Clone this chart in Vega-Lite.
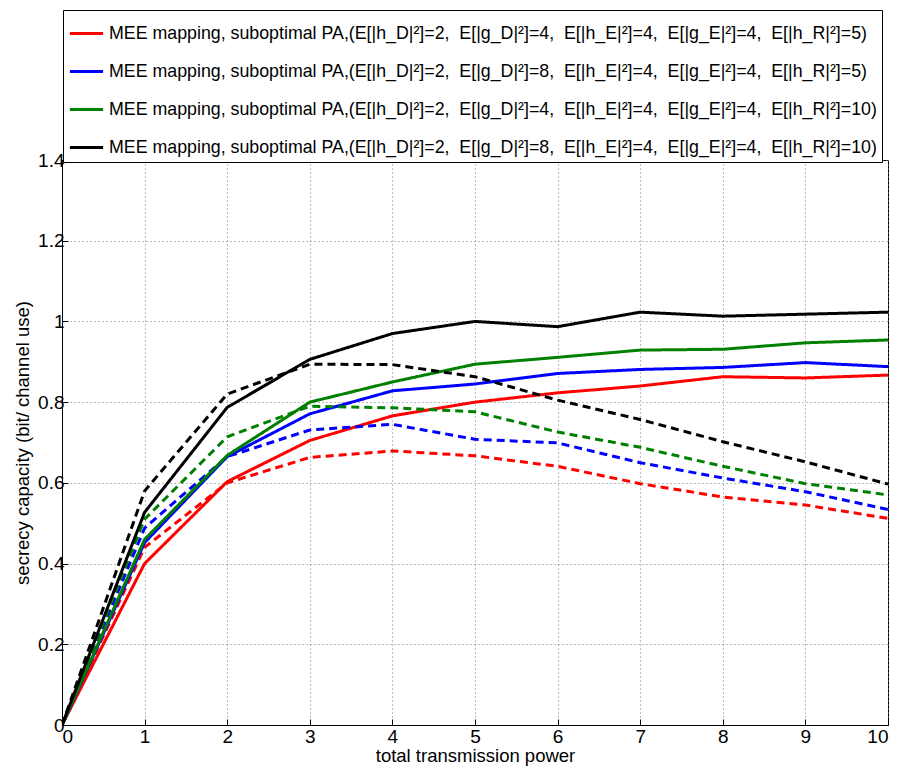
{
  "$schema": "https://vega.github.io/schema/vega-lite/v6.json",
  "width": 826,
  "height": 565,
  "autosize": {"type": "none"},
  "padding": {"left": 62, "top": 160, "right": 12, "bottom": 42},
  "background": "white",
  "config": {
    "font": "Liberation Sans",
    "view": {"stroke": "black", "strokeWidth": 1},
    "axis": {
      "domainColor": "black",
      "tickColor": "black",
      "labelColor": "black",
      "titleColor": "black",
      "titleFontWeight": "normal",
      "labelFontSize": 19,
      "titleFontSize": 18.5,
      "grid": true,
      "gridColor": "#777777",
      "gridDash": [1, 3],
      "gridWidth": 1,
      "tickSize": -6,
      "labelPadding": 4
    }
  },
  "data": {
    "values": [
      {"p": 0, "c": 0, "s": "A", "t": "solid"},
      {"p": 1, "c": 0.40, "s": "A", "t": "solid"},
      {"p": 2, "c": 0.603, "s": "A", "t": "solid"},
      {"p": 3, "c": 0.705, "s": "A", "t": "solid"},
      {"p": 4, "c": 0.766, "s": "A", "t": "solid"},
      {"p": 5, "c": 0.80, "s": "A", "t": "solid"},
      {"p": 6, "c": 0.823, "s": "A", "t": "solid"},
      {"p": 7, "c": 0.84, "s": "A", "t": "solid"},
      {"p": 8, "c": 0.863, "s": "A", "t": "solid"},
      {"p": 9, "c": 0.86, "s": "A", "t": "solid"},
      {"p": 10, "c": 0.867, "s": "A", "t": "solid"},
      {"p": 0, "c": 0, "s": "A", "t": "dashed"},
      {"p": 1, "c": 0.44, "s": "A", "t": "dashed"},
      {"p": 2, "c": 0.60, "s": "A", "t": "dashed"},
      {"p": 3, "c": 0.663, "s": "A", "t": "dashed"},
      {"p": 4, "c": 0.679, "s": "A", "t": "dashed"},
      {"p": 5, "c": 0.667, "s": "A", "t": "dashed"},
      {"p": 6, "c": 0.641, "s": "A", "t": "dashed"},
      {"p": 7, "c": 0.598, "s": "A", "t": "dashed"},
      {"p": 8, "c": 0.565, "s": "A", "t": "dashed"},
      {"p": 9, "c": 0.545, "s": "A", "t": "dashed"},
      {"p": 10, "c": 0.512, "s": "A", "t": "dashed"},
      {"p": 0, "c": 0, "s": "B", "t": "solid"},
      {"p": 1, "c": 0.452, "s": "B", "t": "solid"},
      {"p": 2, "c": 0.665, "s": "B", "t": "solid"},
      {"p": 3, "c": 0.771, "s": "B", "t": "solid"},
      {"p": 4, "c": 0.828, "s": "B", "t": "solid"},
      {"p": 5, "c": 0.845, "s": "B", "t": "solid"},
      {"p": 6, "c": 0.871, "s": "B", "t": "solid"},
      {"p": 7, "c": 0.881, "s": "B", "t": "solid"},
      {"p": 8, "c": 0.886, "s": "B", "t": "solid"},
      {"p": 9, "c": 0.898, "s": "B", "t": "solid"},
      {"p": 10, "c": 0.888, "s": "B", "t": "solid"},
      {"p": 0, "c": 0, "s": "B", "t": "dashed"},
      {"p": 1, "c": 0.488, "s": "B", "t": "dashed"},
      {"p": 2, "c": 0.665, "s": "B", "t": "dashed"},
      {"p": 3, "c": 0.731, "s": "B", "t": "dashed"},
      {"p": 4, "c": 0.745, "s": "B", "t": "dashed"},
      {"p": 5, "c": 0.708, "s": "B", "t": "dashed"},
      {"p": 6, "c": 0.699, "s": "B", "t": "dashed"},
      {"p": 7, "c": 0.650, "s": "B", "t": "dashed"},
      {"p": 8, "c": 0.612, "s": "B", "t": "dashed"},
      {"p": 9, "c": 0.578, "s": "B", "t": "dashed"},
      {"p": 10, "c": 0.534, "s": "B", "t": "dashed"},
      {"p": 0, "c": 0, "s": "C", "t": "solid"},
      {"p": 1, "c": 0.46, "s": "C", "t": "solid"},
      {"p": 2, "c": 0.668, "s": "C", "t": "solid"},
      {"p": 3, "c": 0.80, "s": "C", "t": "solid"},
      {"p": 4, "c": 0.850, "s": "C", "t": "solid"},
      {"p": 5, "c": 0.894, "s": "C", "t": "solid"},
      {"p": 6, "c": 0.911, "s": "C", "t": "solid"},
      {"p": 7, "c": 0.929, "s": "C", "t": "solid"},
      {"p": 8, "c": 0.931, "s": "C", "t": "solid"},
      {"p": 9, "c": 0.947, "s": "C", "t": "solid"},
      {"p": 10, "c": 0.954, "s": "C", "t": "solid"},
      {"p": 0, "c": 0, "s": "C", "t": "dashed"},
      {"p": 1, "c": 0.51, "s": "C", "t": "dashed"},
      {"p": 2, "c": 0.714, "s": "C", "t": "dashed"},
      {"p": 3, "c": 0.79, "s": "C", "t": "dashed"},
      {"p": 4, "c": 0.786, "s": "C", "t": "dashed"},
      {"p": 5, "c": 0.776, "s": "C", "t": "dashed"},
      {"p": 6, "c": 0.726, "s": "C", "t": "dashed"},
      {"p": 7, "c": 0.688, "s": "C", "t": "dashed"},
      {"p": 8, "c": 0.641, "s": "C", "t": "dashed"},
      {"p": 9, "c": 0.598, "s": "C", "t": "dashed"},
      {"p": 10, "c": 0.570, "s": "C", "t": "dashed"},
      {"p": 0, "c": 0, "s": "D", "t": "solid"},
      {"p": 1, "c": 0.527, "s": "D", "t": "solid"},
      {"p": 2, "c": 0.787, "s": "D", "t": "solid"},
      {"p": 3, "c": 0.906, "s": "D", "t": "solid"},
      {"p": 4, "c": 0.970, "s": "D", "t": "solid"},
      {"p": 5, "c": 1.0, "s": "D", "t": "solid"},
      {"p": 6, "c": 0.987, "s": "D", "t": "solid"},
      {"p": 7, "c": 1.023, "s": "D", "t": "solid"},
      {"p": 8, "c": 1.013, "s": "D", "t": "solid"},
      {"p": 9, "c": 1.018, "s": "D", "t": "solid"},
      {"p": 10, "c": 1.023, "s": "D", "t": "solid"},
      {"p": 0, "c": 0, "s": "D", "t": "dashed"},
      {"p": 1, "c": 0.58, "s": "D", "t": "dashed"},
      {"p": 2, "c": 0.82, "s": "D", "t": "dashed"},
      {"p": 3, "c": 0.894, "s": "D", "t": "dashed"},
      {"p": 4, "c": 0.893, "s": "D", "t": "dashed"},
      {"p": 5, "c": 0.863, "s": "D", "t": "dashed"},
      {"p": 6, "c": 0.805, "s": "D", "t": "dashed"},
      {"p": 7, "c": 0.757, "s": "D", "t": "dashed"},
      {"p": 8, "c": 0.702, "s": "D", "t": "dashed"},
      {"p": 9, "c": 0.652, "s": "D", "t": "dashed"},
      {"p": 10, "c": 0.597, "s": "D", "t": "dashed"}
    ]
  },
  "mark": {"type": "line", "strokeWidth": 3, "clip": true},
  "encoding": {
    "x": {
      "field": "p",
      "type": "quantitative",
      "scale": {"domain": [0, 10], "nice": false, "zero": false},
      "axis": {
        "values": [0, 1, 2, 3, 4, 5, 6, 7, 8, 9, 10],
        "title": "total transmission power",
        "labelPadding": 8,
        "titlePadding": 0
      }
    },
    "y": {
      "field": "c",
      "type": "quantitative",
      "scale": {"domain": [0, 1.4], "nice": false},
      "axis": {
        "values": [0, 0.2, 0.4, 0.6, 0.8, 1, 1.2, 1.4],
        "format": "~g",
        "title": "secrecy capacity (bit/ channel use)",
        "titlePadding": 5
      }
    },
    "color": {
      "field": "s",
      "type": "nominal",
      "scale": {"domain": ["A", "B", "C", "D"], "range": ["#ff0000", "#0000ff", "#008000", "#000000"]},
      "legend": {
        "orient": "none",
        "legendX": 1,
        "legendY": -150,
        "title": null,
        "symbolType": "stroke",
        "symbolSize": 1100,
        "symbolStrokeWidth": 3,
        "labelFontSize": 17.8,
        "labelColor": "black",
        "labelLimit": 1000,
        "labelOffset": 4,
        "fillColor": "white",
        "strokeColor": "black",
        "padding": 5,
        "rowPadding": 10,
        "labelExpr": "datum.label == 'A' ? 'MEE mapping, suboptimal PA,(E[|h_D|²]=2,\u00a0 E[|g_D|²]=4,\u00a0 E[|h_E|²]=4,\u00a0 E[|g_E|²]=4,\u00a0 E[|h_R|²]=5)' : datum.label == 'B' ? 'MEE mapping, suboptimal PA,(E[|h_D|²]=2,\u00a0 E[|g_D|²]=8,\u00a0 E[|h_E|²]=4,\u00a0 E[|g_E|²]=4,\u00a0 E[|h_R|²]=5)' : datum.label == 'C' ? 'MEE mapping, suboptimal PA,(E[|h_D|²]=2,\u00a0 E[|g_D|²]=4,\u00a0 E[|h_E|²]=4,\u00a0 E[|g_E|²]=4,\u00a0 E[|h_R|²]=10)' : 'MEE mapping, suboptimal PA,(E[|h_D|²]=2,\u00a0 E[|g_D|²]=8,\u00a0 E[|h_E|²]=4,\u00a0 E[|g_E|²]=4,\u00a0 E[|h_R|²]=10)'"
      }
    },
    "strokeDash": {
      "field": "t",
      "type": "nominal",
      "scale": {"domain": ["solid", "dashed"], "range": [[1, 0], [8, 5]]},
      "legend": null
    }
  }
}
